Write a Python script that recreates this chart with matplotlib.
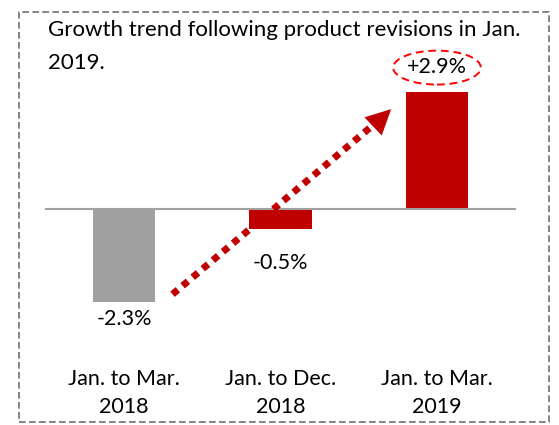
import matplotlib.pyplot as plt
from matplotlib.patches import Ellipse, Rectangle

categories = ["Jan. to Mar.\n2018", "Jan. to Dec.\n2018", "Jan. to Mar.\n2019"]
values = [-2.3, -0.5, 2.9]
labels = ["-2.3%", "-0.5%", "+2.9%"]
colors = ["#A0A0A0", "#C00000", "#C00000"]
title_lines = ["Growth trend following product revisions in Jan.", "2019."]

plt.rcParams['font.family'] = ['Lato', 'DejaVu Sans']

fig = plt.figure(figsize=(5.59, 4.25), dpi=100)
ax = fig.add_axes([0, 0, 1, 1])
ax.set_axis_off()

# pixel layout -> data: centers at 124 px, step 156.5 px; zero at 209 px, 40.4 px/unit
W, H = 559, 425
ax.set_xlim(-124 / 156.5, (W - 124) / 156.5)
ax.set_ylim(-(H - 209) / 40.4, 209 / 40.4)

x = list(range(len(values)))
ax.bar(x, values, width=0.4, color=colors, zorder=2)
ax.axhline(0, xmin=46 / W, xmax=515 / W, color="#A0A0A0", lw=1.5, zorder=3)

# label gaps from bar end (data units)
gaps = [0.17, 0.6, 0.37]
for i, (v, lab, g) in enumerate(zip(values, labels, gaps)):
    if v < 0:
        ax.text(i, v - g, lab, ha="center", va="top", fontsize=15.5)
    else:
        ax.text(i, v + g, lab, ha="center", va="bottom", fontsize=15.5)

ax.add_patch(Ellipse((2, values[2] + 0.6), 0.56, 0.84, fill=False,
                     edgecolor="#FF0000", ls=(0, (4, 2.5)), lw=1.4))

for i, c in enumerate(categories):
    ax.text(i, -3.97, c, ha="center", va="top", fontsize=15.5, linespacing=1.45)

# trend arrow
x0, y0 = 0.31, -2.11
x1, y1 = 1.72, 2.52
ax.plot([x0, x1 - 0.06], [y0, y1 - 0.22], color="#C00000", lw=5,
        ls=(0, (1, 0.9)), zorder=4)
ax.annotate("", xy=(x1, y1), xytext=(x1 - 0.1, y1 - 0.37),
            arrowprops=dict(arrowstyle="-|>,head_length=0.9,head_width=0.45",
                            mutation_scale=20, color="#C00000", lw=0), zorder=4)

for j, line in enumerate(title_lines):
    fig.text(48 / W, 1 - (30 + 33 * j) / H, line, ha="left", va="center",
             fontsize=16)

fig.patches.append(Rectangle((19 / W, 1 - 422 / H), (549 - 19) / W, (422 - 12) / H,
                             transform=fig.transFigure, fill=False,
                             edgecolor="#707070", ls=(0, (4, 2)), lw=1.2))

fig.savefig("out.png", dpi=100)
